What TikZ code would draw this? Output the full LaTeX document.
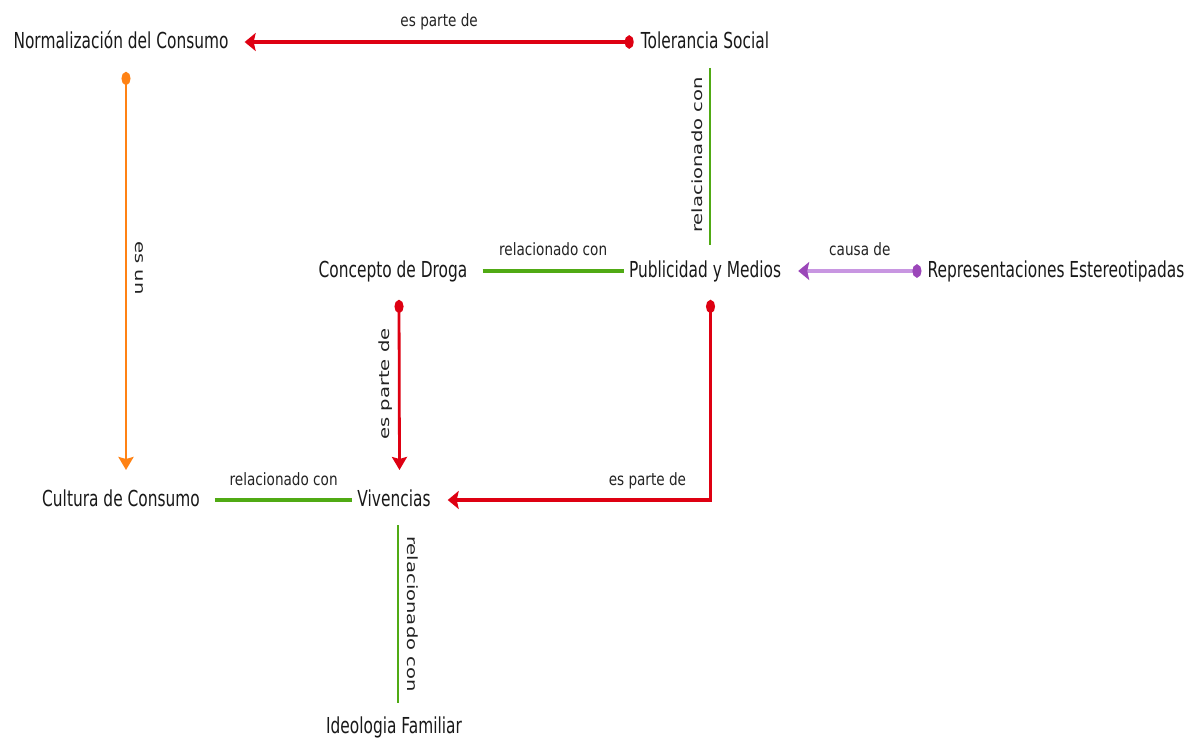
\documentclass[tikz,border=0pt]{standalone}
\usepackage{fontspec}
\usepackage{graphicx}
\usetikzlibrary{arrows.meta,calc}

% Fonts: condensed sans for concepts and link labels, plain sans for side labels
\newfontfamily\conceptfont[FakeStretch=0.70]{DejaVu Sans}
\newfontfamily\linkfont[FakeStretch=0.80]{DejaVu Sans}
\newfontfamily\sidefont{DejaVu Sans}
\newcommand\sidetext[1]{\scalebox{1}[0.72]{\sidefont\fontsize{19.6}{22}\selectfont #1}}

\definecolor{ink}{RGB}{25,25,25}
\definecolor{labink}{RGB}{35,35,35}
\definecolor{linkred}{RGB}{222,0,18}
\definecolor{linkorange}{RGB}{255,130,20}
\definecolor{linkgreen}{RGB}{80,170,20}
\definecolor{linkpurple}{RGB}{200,150,225}
\definecolor{tippurple}{RGB}{155,70,185}

\tikzset{
  concept/.style={font=\conceptfont\fontsize{22}{26}\selectfont, text=ink, inner sep=0pt, anchor=base},
  linklabel/.style={font=\linkfont\fontsize{17}{20}\selectfont, text=labink, inner sep=0pt, anchor=base},
  sidelabel/.style={text=labink, inner sep=0pt, anchor=base},
  hline/.style={line width=3.6pt},
  vline/.style={line width=2.8pt},
  hdot/.tip={Circle[length=9pt,width=13pt]},
  vdot/.tip={Circle[length=13pt,width=9pt]},
  hhead/.tip={Stealth[length=11pt,width=18pt,inset=2pt]},
  vhead/.tip={Stealth[length=13pt,width=15pt,inset=2pt]},
}

\begin{document}
\begin{tikzpicture}[x=1pt,y=-1pt]
  \useasboundingbox (0,0) rectangle (1184,738);
  \fill[white] (0,0) rectangle (1184,738);

  % concepts
  \node[concept] (norm)  at (121,49)  {Normalización del Consumo};
  \node[concept] (tol)   at (705,49)  {Tolerancia Social};
  \node[concept] (droga) at (393,277) {Concepto de Droga};
  \node[concept] (pub)   at (705,277) {Publicidad y Medios};
  \node[concept] (rep)   at (1056,277) {Representaciones Estereotipadas};
  \node[concept] (cult)  at (121,506) {Cultura de Consumo};
  \node[concept] (viv)   at (394,506) {Vivencias};
  \node[concept] (ideo)  at (394,733) {Ideologia Familiar};

  % Tolerancia Social -> Normalización del Consumo
  \draw[linkred, hline, {hdot}-{hhead}]
    ($(tol.base west)+(-7,-7)$) -- node[linklabel, midway, yshift=15pt] (l1) {es parte de}
    ($(norm.base east)+(16,-7)$);

  % Normalización del Consumo -> Cultura de Consumo
  \draw[linkorange, vline, {vdot}-{vhead}]
    ($(norm.base)+(5,23)$) -- ($(cult.base)+(5,-36)$);
  \node[sidelabel, rotate=-90] (l2) at (135,268) {\sidetext{es un}};

  % Tolerancia Social -- Publicidad y Medios
  \draw[linkgreen, vline] ($(tol.base)+(5,19)$) -- ($(pub.base)+(5,-32)$);
  \node[sidelabel, rotate=90] (l3) at (702,155) {\sidetext{relacionado con}};

  % Concepto de Droga -- Publicidad y Medios
  \draw[linkgreen, hline]
    ($(droga.base east)+(15,-6)$) -- node[linklabel, midway, yshift=15pt] (l4) {relacionado con}
    ($(pub.base west)+(-5,-6)$);

  % Representaciones Estereotipadas -> Publicidad y Medios
  \draw[linkpurple, hline, {hdot[color=tippurple]}-{hhead[color=tippurple]}]
    ($(rep.base west)+(-6,-6)$) -- node[linklabel, midway, yshift=15pt] (l5) {causa de}
    ($(pub.base east)+(17,-6)$);

  % Concepto de Droga -> Vivencias
  \draw[linkred, vline, {vdot}-{vhead}]
    ($(droga.base)+(6,23)$) -- ($(viv.base)+(5.5,-36)$);
  \node[sidelabel, rotate=90] (l6) at (389,384) {\sidetext{es parte de}};

  % Publicidad y Medios -> Vivencias
  \draw[linkred, line width=3.2pt, {vdot}-{hhead}]
    ($(pub.base)+(5.5,23)$) |- node[linklabel, pos=0.62, yshift=15pt] (l7) {es parte de}
    ($(viv.base east)+(17,-6)$);

  % Cultura de Consumo -- Vivencias
  \draw[linkgreen, hline]
    ($(cult.base east)+(15,-6)$) -- node[linklabel, midway, yshift=15pt] (l8) {relacionado con}
    ($(viv.base west)+(-5,-6)$);

  % Vivencias -- Ideologia Familiar
  \draw[linkgreen, vline] ($(viv.base)+(4,19)$) -- ($(ideo.base)+(4,-30)$);
  \node[sidelabel, rotate=-90] (l9) at (407,614) {\sidetext{relacionado con}};
\end{tikzpicture}
\end{document}
